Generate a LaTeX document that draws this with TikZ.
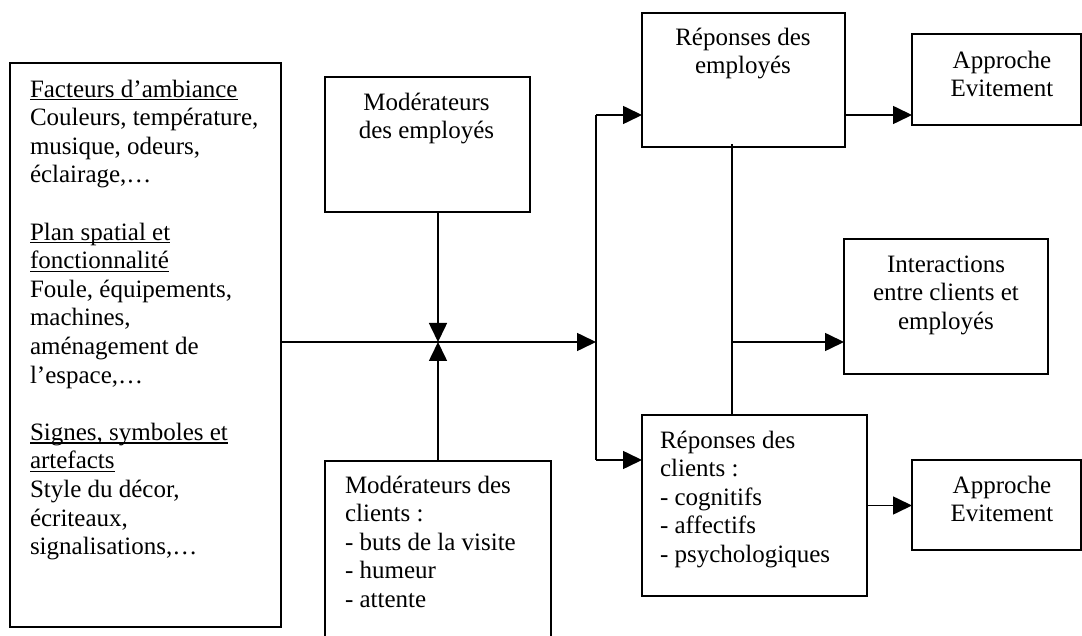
\documentclass[tikz,border=0pt]{standalone}
\usepackage{fontspec}
\setmainfont{Liberation Serif}
\usetikzlibrary{arrows.meta,calc}
\newcommand\ulx[1]{\leavevmode\setbox0=\hbox{#1}\rlap{\rule[-3.3pt]{\wd0}{1.3pt}}\box0}
\begin{document}
\begin{tikzpicture}[x=1pt,y=-1pt,
  box/.style={draw, line width=1.6pt, inner sep=0pt, outer sep=0pt, anchor=north west},
  txt/.style={inner sep=0pt, outer sep=0pt, text width=320pt, font=\fontsize{25}{28.6}\selectfont},
  ltxt/.style={txt, align=flush left, anchor=north west},
  ctxt/.style={txt, align=flush center, anchor=north},
  conn/.style={line width=1.6pt},
  arr/.style={conn, -{Triangle[length=19pt,width=18pt]}}]
\useasboundingbox (0,0) rectangle (1082,636);
% boxes
\node[box, minimum width=271pt, minimum height=564pt] (env) at (10,63) {};
\node[box, minimum width=205pt, minimum height=135pt] (modE) at (325,77) {};
\node[box, minimum width=226pt, minimum height=185pt] (modC) at (325,461) {};
\node[box, minimum width=203pt, minimum height=134pt] (repE) at (642,13) {};
\node[box, minimum width=169pt, minimum height=91pt] (app1) at (912,34) {};
\node[box, minimum width=204pt, minimum height=135pt] (inter) at (844,239) {};
\node[box, minimum width=225pt, minimum height=181pt] (repC) at (642,415) {};
\node[box, minimum width=169pt, minimum height=90pt] (app2) at (912,460) {};
% texts
\node[ltxt] (envT) at (30,77) {\strut\ulx{Facteurs d’ambiance}\\
Couleurs, température,\\ musique, odeurs,\\ éclairage,…\\ \mbox{}\\
\ulx{Plan spatial et}\\ \ulx{fonctionnalité}\\ Foule, équipements,\\ machines,\\ aménagement de\\ l’espace,…\\ \mbox{}\\
\ulx{Signes, symboles et}\\ \ulx{artefacts}\\ Style du décor,\\ écriteaux,\\ signalisations,…};
\node[ctxt] (modET) at (426.5,90) {\strut Modérateurs\\ des employés};
\node[ltxt] (modCT) at (345,473) {\strut Modérateurs des\\ clients :\\ - buts de la visite\\ - humeur\\ - attente};
\node[ctxt] (repET) at (743,25) {\strut Réponses des\\ employés};
\node[ctxt] (app1T) at (1002,48) {\strut Approche\\ Evitement};
\node[ctxt] (interT) at (946,252) {\strut Interactions\\ entre clients et\\ employés};
\node[ltxt] (repCT) at (660,428) {\strut Réponses des\\ clients :\\ - cognitifs\\ - affectifs\\ - psychologiques};
\node[ctxt] (app2T) at (1002,473) {\strut Approche\\ Evitement};
% junctions
\coordinate (j) at (438,342);
\coordinate (split) at (596,342);
\coordinate (top) at (596,115);
\coordinate (bot) at (596,460);
\coordinate (mid) at (732,342);
% connectors
\draw[arr] (env.east |- j) -- (split);
\draw[arr] (modE.south -| j) -- (j);
\draw[arr] (modC.north -| j) -- (j);
\draw[conn] (top) -- (bot);
\draw[arr] (top) -- (top -| repE.west);
\draw[arr] (bot) -- (bot -| repC.west);
\draw[arr] (top -| repE.east) -- (top -| app1.west);
\draw[conn] ([yshift=3pt]repE.south -| mid) -- (repC.north -| mid);
\draw[arr] (mid) -- (mid -| inter.west);
\draw[arr] (repC.east) -- (repC.east -| app2.west);
\end{tikzpicture}
\end{document}
